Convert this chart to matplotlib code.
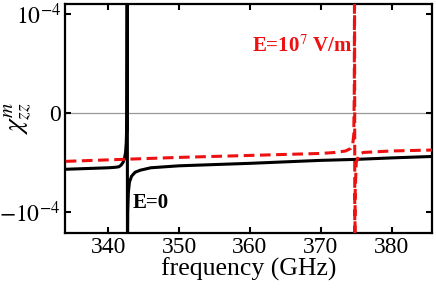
import matplotlib
matplotlib.use("Agg")
import matplotlib.pyplot as plt
import numpy as np

plt.rcParams['font.family'] = ['Liberation Serif', 'DejaVu Serif']
plt.rcParams['mathtext.fontset'] = 'stix'

# curva E=0 (negro), chi en unidades de 1e-4
f_e0 = [334, 336, 338, 340, 341.0, 341.5, 341.8, 342.1, 342.3, 342.45, 342.55, 342.62, 342.68,
        342.72, 342.76, 342.85, 343.0, 343.3, 343.8, 344.5, 346, 350, 360, 370, 375, 380, 386]
chi_e0 = [-0.57, -0.565, -0.56, -0.555, -0.55, -0.545, -0.53, -0.50, -0.46, -0.40, -0.30, -0.1, 1.5,
          -1.5, -1.0, -0.8, -0.70, -0.64, -0.60, -0.58, -0.555, -0.535, -0.51, -0.48, -0.47, -0.455, -0.44]

# curva E=1e7 V/m (rojo discontinuo)
f_e7 = [334, 340, 350, 360, 370, 372, 373.5, 374.2, 374.5, 374.65, 374.72, 374.76,
        374.8, 374.85, 375.0, 375.4, 376, 380, 386]
chi_e7 = [-0.49, -0.475, -0.45, -0.43, -0.41, -0.40, -0.385, -0.36, -0.32, -0.22, 0.2, 1.5,
          -1.5, -0.8, -0.5, -0.42, -0.40, -0.385, -0.375]

xticks = [340, 350, 360, 370, 380]
yticks = [-1e-4, 0, 1e-4]
yticklabels = [r'$-10^{-4}$', '0', r'$10^{-4}$']

fig = plt.figure(figsize=(4.36, 2.90), dpi=100)
ax = fig.add_axes([0.149, 0.198, 0.842, 0.788])

ax.axhline(0, color='#999999', lw=0.9, zorder=1)
ax.plot(f_e0, np.array(chi_e0) * 1e-4, color='black', lw=2.2, zorder=2)
ax.plot(f_e7, np.array(chi_e7) * 1e-4, color='#ee1111', lw=2.2,
        dashes=(3.5, 1.8), zorder=3)

ax.set_xlim(333.9, 385.7)
ax.set_ylim(-1.21e-4, 1.10e-4)
ax.set_xticks(xticks)
ax.set_yticks(yticks)
ax.set_yticklabels(yticklabels)

ax.tick_params(direction='in', top=True, right=True, length=4, width=1.5,
               labelsize=17, pad=3)
for s in ax.spines.values():
    s.set_linewidth(1.6)

ax.set_xlabel('frequency (GHz)', fontsize=18.5, labelpad=0)
ax.set_ylabel(r'$\chi^{m}_{zz}$', fontsize=20)
ax.yaxis.set_label_coords(-0.085, 0.5)

ax.text(343.5, -0.906e-4, 'E=0', color='black', fontsize=15,
        fontweight='bold', va='center', ha='left')
ax.text(374.4, 0.67e-4, r'E=10$^{7}$ V/m', color='#ee1111', fontsize=15,
        fontweight='bold', va='center', ha='right')

fig.savefig('out.png', dpi=100)
